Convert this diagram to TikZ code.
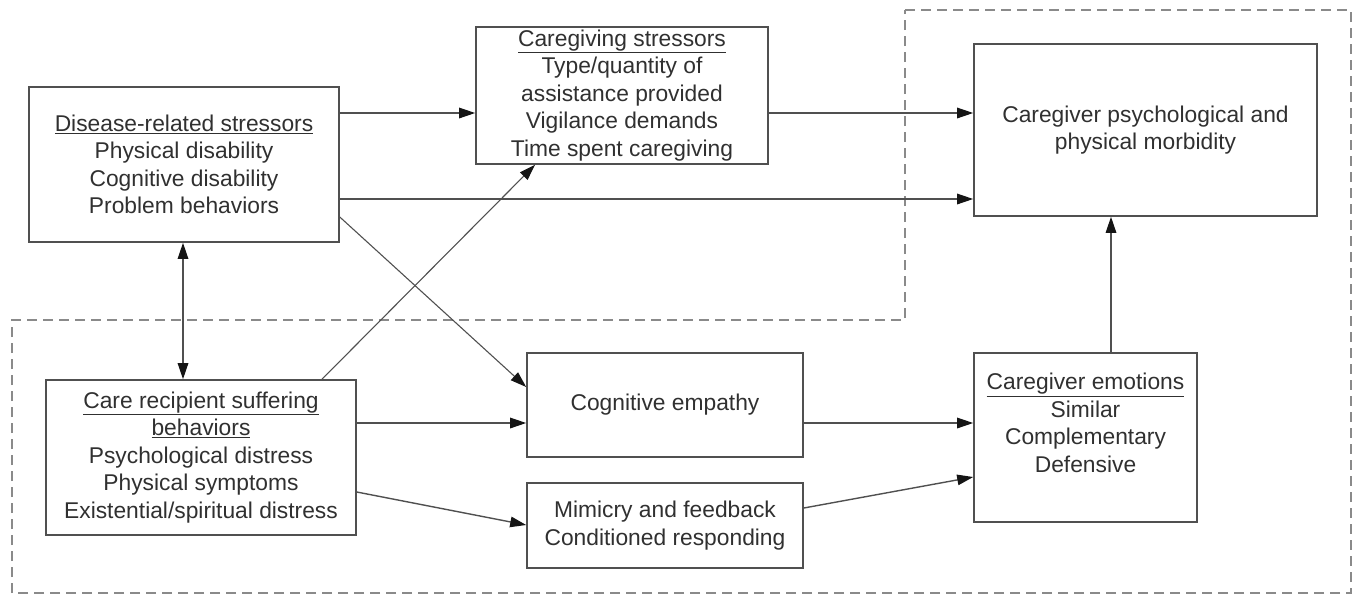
\documentclass[tikz,border=0pt]{standalone}
\usepackage{fontspec}
\setmainfont{Liberation Sans}
\usetikzlibrary{arrows.meta}
\definecolor{boxc}{HTML}{505050}
\definecolor{txtc}{HTML}{303030}
\definecolor{tipc}{HTML}{151515}
\definecolor{dashc}{HTML}{8A8A8A}
\tikzset{
  box/.style={draw=boxc, line width=1.6pt, rectangle, inner sep=0pt, align=center, text=txtc, font=\fontsize{22.8}{27.5}\selectfont},
  txt/.style={inner sep=0pt, align=center, text=txtc, font=\fontsize{22.8}{27.5}\selectfont},
  tip/.tip={Triangle[length=16pt,width=10.5pt,color=tipc]},
  arr/.style={draw=boxc, line width=1.4pt, -tip},
  darr/.style={draw=boxc, line width=1.4pt, tip-tip},
  thinarr/.style={draw=boxc, line width=1.1pt, -tip},
  region/.style={draw=dashc, line width=1.8pt, dash pattern=on 10pt off 6pt},
}
\begin{document}
\begin{tikzpicture}[x=1pt,y=-1pt]
\useasboundingbox (0,0) rectangle (1359,595);

% dashed region
\draw[region] (905,10) -- (1351,10) -- (1351,593) -- (12,593) -- (12,320) -- (905,320) -- cycle;

% boxes
\node[box, minimum width=310pt, minimum height=155pt] (A) at (184,164.5)
  {\underline{Disease-related stressors}\\Physical disability\\Cognitive disability\\Problem behaviors};
\node[box, minimum width=292pt, minimum height=137pt] (B) at (622,95.5)
  {\underline{Caregiving stressors}\\Type/quantity of\\assistance provided\\Vigilance demands\\Time spent caregiving};
\node[box, minimum width=343pt, minimum height=172pt] (D) at (1145.5,130)
  {Caregiver psychological and\\physical morbidity};
\node[box, minimum width=223pt, minimum height=169pt] (E) at (1085.5,437.5) {};
\node[txt] (Et) at (1085.5,423)
  {\underline{Caregiver emotions}\\Similar\\Complementary\\Defensive};
\node[box, minimum width=276pt, minimum height=104pt] (C) at (665,405) {Cognitive empathy};
\node[box, minimum width=276pt, minimum height=85pt] (M) at (665,525.5)
  {Mimicry and feedback\\Conditioned responding};
\node[box, minimum width=310pt, minimum height=155pt] (R) at (201,457.5)
  {\underline{Care recipient suffering}\\\underline{behaviors}\\Psychological distress\\Physical symptoms\\Existential/spiritual distress};

% connectors
\draw[arr] (A.east |- {(0,113)}) -- (B.west |- {(0,113)});
\draw[arr] (B.east |- {(0,113)}) -- (D.west |- {(0,113)});
\draw[arr] (A.east |- {(0,199)}) -- (D.west |- {(0,199)});
\draw[thinarr] (A.east |- {(0,217)}) -- (C.west |- {(0,387)});
\draw[thinarr] (R.north -| {(322,0)}) -- (B.south -| {(535,0)});
\draw[darr] (A.south -| {(183,0)}) -- (R.north -| {(183,0)});
\draw[arr] (R.east |- {(0,423)}) -- (C.west |- {(0,423)});
\draw[arr] (R.east |- {(0,492)}) -- (M.west |- {(0,525)});
\draw[arr] (C.east |- {(0,423)}) -- (E.west |- {(0,423)});
\draw[arr] (M.east |- {(0,508)}) -- (E.west |- {(0,477)});
\draw[arr] (E.north -| {(1111,0)}) -- (D.south -| {(1111,0)});
\end{tikzpicture}
\end{document}
